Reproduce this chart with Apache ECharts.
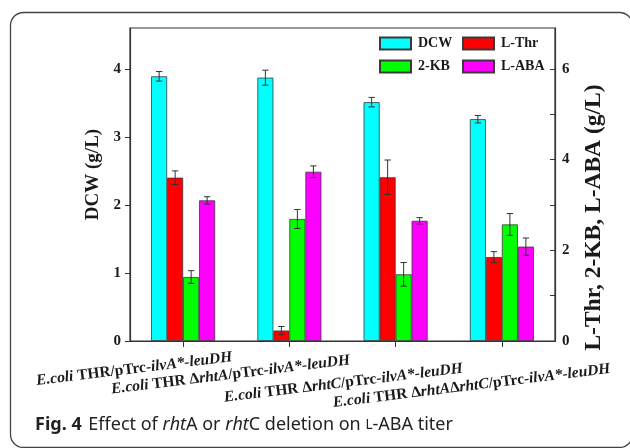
<!DOCTYPE html>
<html><head><meta charset="utf-8">
<script src="https://cdn.jsdelivr.net/npm/echarts@6/dist/echarts.min.js"></script>
<style>html,body{margin:0;padding:0;background:#fff}#c{width:630px;height:448px}</style>
</head><body><div id="c"></div>
<script>
// ---- data ----
const categories = [
  'E.coli THR/pTrc-ilvA*-leuDH',
  'E.coli THR \u0394rhtA/pTrc-ilvA*-leuDH',
  'E.coli THR \u0394rhtC/pTrc-ilvA*-leuDH',
  'E.coli THR \u0394rhtA\u0394rhtC/pTrc-ilvA*-leuDH'
];
const seriesNames = ['DCW', 'L-Thr', '2-KB', 'L-ABA'];
const dcw = [3.89, 3.87, 3.51, 3.26];
const dcwErr = [0.07, 0.11, 0.07, 0.055];
const lThr = [3.60, 0.23, 3.61, 1.85];
const lThrErr = [0.15, 0.09, 0.38, 0.12];
const kb = [1.41, 2.69, 1.47, 2.57];
const kbErr = [0.14, 0.21, 0.26, 0.24];
const lAba = [3.10, 3.73, 2.65, 2.08];
const lAbaErr = [0.08, 0.13, 0.07, 0.19];
const leftTicks = [0, 1, 2, 3, 4];
const rightTicks = [0, 1, 2, 3, 4, 5, 6];
const rightTickLabels = [0, 2, 4, 6];

// ---- styles ----
const colors = ['#00FFFF', '#FF0000', '#00FF00', '#FF00FF'];
const serif = 'Liberation Serif';
const ink = '#1a1a1a';
const barW = 16;
const labelPads = [[28, 102, 0, 0], [37, 123, 0, 0], [55, 112, 0, 0], [66, 69, 0, 0]];

function richLabel(s) {
  return s.split(/(E\.coli|rht[AC]|ilvA\*-leuDH)/).map((p, i) => {
    if (!p) return '';
    return (i % 2 ? '{i|' : '{n|') + p + '}';
  }).join('');
}

function errSeries(idx, vals, errs, yAxisIndex) {
  return {
    type: 'custom', yAxisIndex: yAxisIndex, z: 10, silent: true,
    data: vals.map((v, i) => [i, v - errs[i], v + errs[i]]),
    encode: { x: 0, y: [1, 2] },
    renderItem: function (params, api) {
      const c = api.value(0);
      const lo = api.coord([c, api.value(1)]);
      const hi = api.coord([c, api.value(2)]);
      const x = lo[0] + (idx - 1.5) * barW;
      const cw = 3.2;
      const st = { stroke: '#333', lineWidth: 1 };
      return { type: 'group', children: [
        { type: 'line', shape: { x1: x, y1: lo[1], x2: x, y2: hi[1] }, style: st },
        { type: 'line', shape: { x1: x - cw, y1: lo[1], x2: x + cw, y2: lo[1] }, style: st },
        { type: 'line', shape: { x1: x - cw, y1: hi[1], x2: x + cw, y2: hi[1] }, style: st }
      ]};
    }
  };
}

const valueSets = [dcw, lThr, kb, lAba];
const errSets = [dcwErr, lThrErr, kbErr, lAbaErr];
const axisIdx = [0, 1, 1, 1];

const series = [];
valueSets.forEach((vals, k) => {
  series.push({
    type: 'bar', name: seriesNames[k], yAxisIndex: axisIdx[k],
    data: vals, barWidth: barW, barGap: '0%',
    itemStyle: { color: colors[k], borderColor: '#3a3a3a', borderWidth: 0.8 }
  });
});
valueSets.forEach((vals, k) => series.push(errSeries(k, vals, errSets[k], axisIdx[k])));

const legendPos = [[379, 36.5], [462, 36.5], [379, 59.5], [462, 59.5]];
const legends = seriesNames.map((n, k) => ({
  data: [n], left: legendPos[k][0], top: legendPos[k][1], padding: 0,
  itemWidth: 31, itemHeight: 12, selectedMode: false, icon: 'rect',
  textStyle: { fontFamily: serif, fontWeight: 'bold', fontSize: 14, color: ink, padding: [0, 0, 0, 2] }
}));

const tickFont = { fontFamily: serif, fontWeight: 'bold', fontSize: 15, color: ink };
const axisLine = { show: true, lineStyle: { color: '#333', width: 1.2 } };

const chart = echarts.init(document.getElementById('c'), null, { renderer: 'canvas' });
chart.setOption({
  animation: false,
  backgroundColor: '#fff',
  legend: legends,
  grid: { left: 130, right: 75, top: 28, bottom: 107, show: true, borderColor: '#333', borderWidth: 1.2, backgroundColor: 'transparent' },
  xAxis: {
    type: 'category',
    data: categories.map((c, i) => ({ value: c, textStyle: { align: 'center', padding: labelPads[i] } })),
    axisLine: axisLine,
    axisTick: { show: true, alignWithLabel: true, length: 6, lineStyle: { color: '#333' } },
    axisLabel: {
      interval: 0, rotate: 7, margin: 8,
      formatter: richLabel,
      rich: {
        n: { fontFamily: serif, fontWeight: 'bold', fontSize: 15.5, color: ink },
        i: { fontFamily: serif, fontWeight: 'bold', fontStyle: 'italic', fontSize: 15.5, color: ink }
      }
    }
  },
  yAxis: [
    {
      type: 'value', min: 0, max: 4.6, interval: 1, position: 'left',
      name: 'DCW (g/L)', nameLocation: 'middle', nameRotate: 90, nameGap: 23,
      nameTextStyle: { fontFamily: serif, fontWeight: 'bold', fontSize: 19, color: ink, padding: [0, 0, 0, 20] },
      axisLine: axisLine,
      axisTick: { show: true, length: 5, customValues: leftTicks, lineStyle: { color: '#333' } },
      axisLabel: Object.assign({ margin: 9, customValues: leftTicks }, tickFont),
      splitLine: { show: false }
    },
    {
      type: 'value', min: 0, max: 6.9, interval: 1, position: 'right',
      name: 'L-Thr, 2-KB, L-ABA (g/L)', nameLocation: 'middle', nameRotate: 90, nameGap: 27,
      nameTextStyle: { fontFamily: serif, fontWeight: 'bold', fontSize: 23.5, color: ink, padding: [0, 66, 0, 0] },
      axisLine: axisLine,
      axisTick: { show: true, inside: true, length: 5, customValues: rightTicks, lineStyle: { color: '#333' } },
      axisLabel: Object.assign({ margin: 7, customValues: rightTickLabels }, tickFont),
      splitLine: { show: false }
    }
  ],
  series: series,
  graphic: [
    {
      type: 'rect', silent: true, z: -1,
      shape: { x: 10.5, y: 12.5, width: 622, height: 435, r: 13 },
      style: { fill: 'none', stroke: '#444', lineWidth: 1.3 }
    },
    {
      type: 'text', left: 35, top: 416, silent: true,
      style: {
        text: '{b|Fig. 4}  {r|Effect of }{i|rht}{r|A or }{i|rht}{r|C deletion on }{s|L}{r|-ABA titer}',
        rich: {
          b: { fontFamily: 'Noto Sans', fontWeight: 'bold', fontSize: 18, fill: '#222' },
          r: { fontFamily: 'Noto Sans', fontSize: 18, fill: '#222' },
          i: { fontFamily: 'Noto Sans', fontStyle: 'italic', fontSize: 18, fill: '#222' },
          s: { fontFamily: 'Noto Sans', fontSize: 13.5, fill: '#222' }
        }
      }
    }
  ]
});
</script>
</body></html>
